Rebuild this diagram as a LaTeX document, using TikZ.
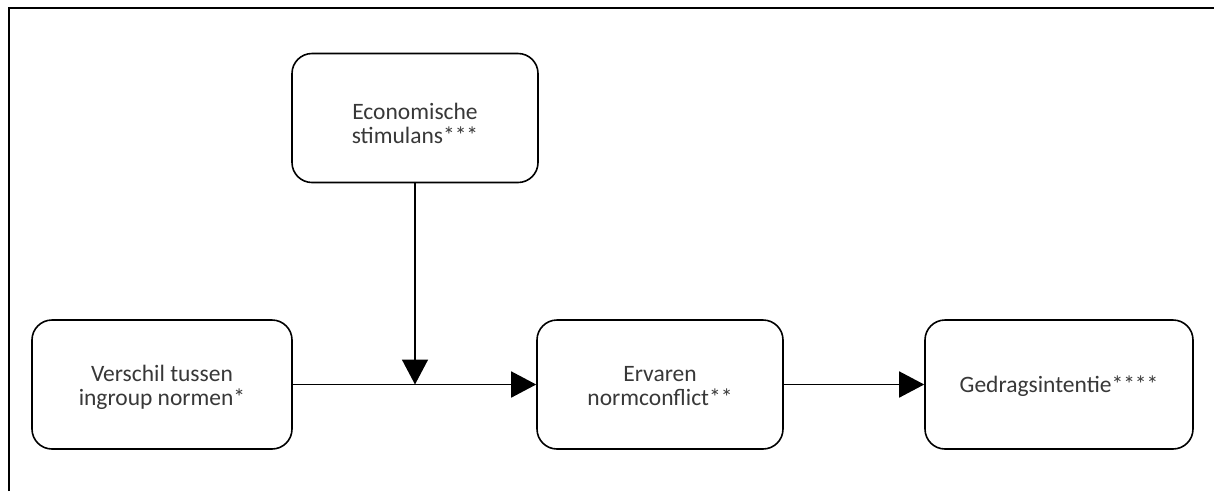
\documentclass[tikz,border=0pt]{standalone}
\usepackage{fontspec}
\setmainfont{Carlito}
\usetikzlibrary{arrows.meta}
\newcommand{\boxtext}[2]{\raisebox{#1}[0pt][0pt]{\parbox[t]{240pt}{\centering #2}}}
\begin{document}
\begin{tikzpicture}[x=1pt,y=-1pt,
  box/.style={draw=black, line width=1.6pt, rounded corners=20pt, fill=white,
    minimum width=#1, minimum height=129pt, inner sep=0pt,
    text=black!78, font=\fontsize{23.5}{24.5}\selectfont},
  box/.default=246pt,
  conn/.style={draw=black, line width=1.6pt,
    -{Triangle[length=25pt,width=26pt]}}]
\useasboundingbox (0,0) rectangle (1214,491);
\draw[line width=2pt] (9,491) -- (9,7.5) -- (1214,7.5);
\node[box=246pt] (econ) at (415,118) {\boxtext{-1pt}{Economische\\stimulans***}};
\node[box=260pt] (verschil) at (162,384.5) {\boxtext{3.5pt}{Verschil tussen\\ingroup normen*}};
\node[box=246pt] (ervaren) at (660,384.5) {\boxtext{3.5pt}{Ervaren\\normconflict**}};
\node[box=268pt] (gedrag) at (1059,384.5) {\raisebox{-7.5pt}[0pt][0pt]{Gedragsintentie****}};
\coordinate (join) at (econ.south |- verschil.east);
\draw[conn] (verschil.east) -- (ervaren.west);
\draw[conn] (econ.south) -- (join);
\draw[conn] (ervaren.east) -- (gedrag.west);
\end{tikzpicture}
\end{document}
